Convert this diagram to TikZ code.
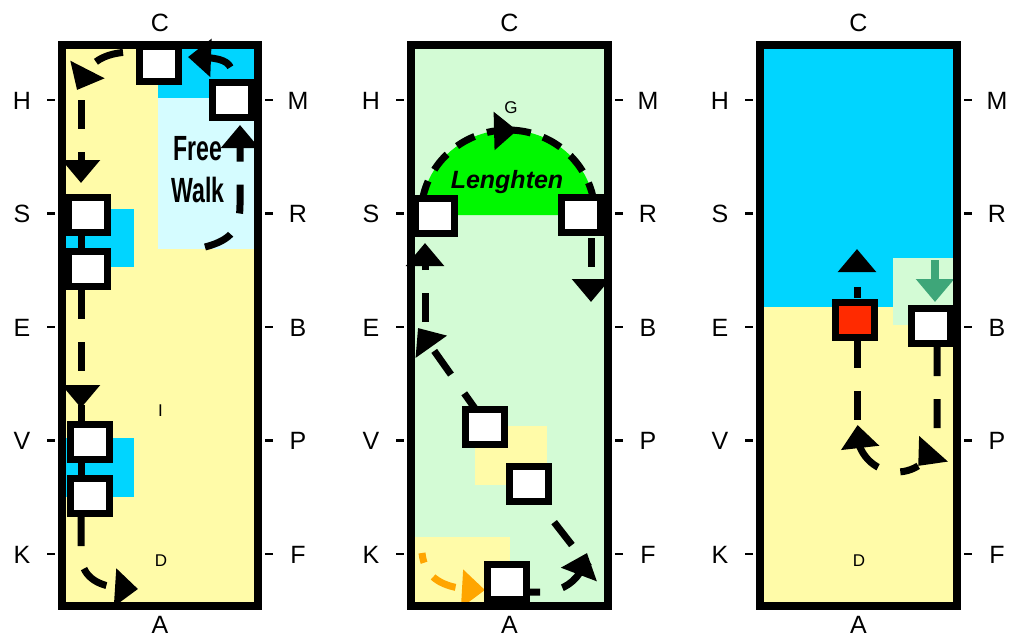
\documentclass[tikz,border=0pt]{standalone}
\usepackage{fontspec}
\usepackage{graphicx}
\setmainfont{Liberation Sans}
\usetikzlibrary{arrows.meta,bending}
\definecolor{pyellow}{HTML}{FFFBA8}
\definecolor{pcyan}{HTML}{00D5FF}
\definecolor{plcyan}{HTML}{D5FCFF}
\definecolor{plgreen}{HTML}{D3FBD5}
\definecolor{pgreen}{HTML}{00F800}
\definecolor{pred}{HTML}{FF2A00}
\definecolor{porange}{HTML}{FFA500}
\definecolor{parrowgreen}{HTML}{3EA679}
\begin{document}
\begin{tikzpicture}[x=1pt,y=-1pt,
  pbox/.style={draw=black,fill=white,line width=7pt,minimum width=39pt,minimum height=35pt,inner sep=0pt},
  dline/.style={line width=7pt,dash pattern=on 29pt off 23pt},
  aline/.style={line width=7pt,dash pattern=on 20pt off 13pt},
  arr/.style={-{Triangle[length=23pt,width=37pt]}},
  frame/.style={draw=black,line width=8pt},
  tick/.style={line width=2.5pt},
  lab/.style={font=\fontsize{25}{25}\selectfont,anchor=base,inner sep=0pt},
  small/.style={font=\fontsize{17}{17}\selectfont,anchor=base,inner sep=0pt}
]
\useasboundingbox (0,0) rectangle (1013,637);

% ---------- backgrounds ----------
\fill[pyellow] (62,45) rectangle (258,606);
\fill[pcyan] (158,49) rectangle (254,98);
\fill[plcyan] (158,98) rectangle (254,249);
\fill[pcyan] (62,209) rectangle (134,267);
\fill[pcyan] (62,438) rectangle (134,497);

\fill[plgreen] (411,45) rectangle (608,606);
\fill[pgreen] (421,215) arc[start angle=180,end angle=360,x radius=87,y radius=85] -- cycle;
\fill[pyellow] (475,426) rectangle (547,485);
\fill[pyellow] (412,537) rectangle (510,602);

\fill[pyellow] (760,45) rectangle (957,606);
\fill[pcyan] (764,49) rectangle (954,307);
\fill[plgreen] (893,258) rectangle (954,325);

% ---------- texts inside ----------
\node[anchor=base,inner sep=0pt] (free) at (197.5,160) {\scalebox{0.66}[1]{\fontsize{35}{35}\selectfont\bfseries Free}};
\node[anchor=base,inner sep=0pt] (walk) at (198,202) {\scalebox{0.66}[1]{\fontsize{35}{35}\selectfont\bfseries Walk}};
\node[small] (i1) at (160.5,416) {I};
\node[small] (d1) at (161,566) {D};
\node[small] (g2) at (511,113) {G};
\node[anchor=base,inner sep=0pt,font=\fontsize{25}{25}\selectfont\bfseries\itshape] (len) at (507,188) {Lenghten};
\node[small] (d3) at (859,566) {D};

% ---------- panel 1 connectors ----------
\draw[dline,dash phase=29pt,arr] (146,52) .. controls (105,50) and (88,60) .. (77,90);
\draw[dline,arr] (81,100) -- (81,183);
\draw[line width=7pt] (81,230) -- (81,250);
\draw[dline,arr] (81,290) -- (81,408);
\draw[line width=7pt] (81,405) -- (81,422);
\draw[line width=7pt] (81,460) -- (81,478);
\draw[dline,arr] (81,517) -- (81,555) .. controls (82,582) and (105,589) .. (138,589);
\draw[dline,dash phase=29pt,arr] (232,90) -- (232,75) .. controls (232,60) and (220,57) .. (188,57);
\draw[dline,arr] (205,247) .. controls (232,240) and (240,228) .. (240,205) -- (240,125);

% ---------- panel 2 connectors ----------
\draw[aline,arr] (422.3,200.2) arc[start angle=190,end angle=276,x radius=87,y radius=85];
\draw[aline] (511,130.05) arc[start angle=272,end angle=355,x radius=87,y radius=85];
\draw[dline,arr] (591,238) -- (591,302);
\draw[dline,arr] (425,322) -- (425,243);
\draw[dline,arr] (481,417) -- (418,328);
\draw[dline,dash phase=29pt] (540,504) -- (589,567);
\draw[dline,arr] (511,592) -- (540,592) .. controls (566,593) and (584,576) .. (587,553);
\draw[porange,line width=7pt,dash pattern=on 25pt off 17pt,dash phase=15pt,arr] (422,553) .. controls (425,580) and (445,590) .. (485,590);

% ---------- panel 3 connectors ----------
\draw[dline,dash pattern=on 11pt off 40pt,arr] (857,298) -- (857,249);
\draw[dline] (857,339) -- (857,421);
\draw[dline,arr] (937,347) -- (937,432) arc[start angle=0,end angle=58,radius=40];
\draw[dline,dash phase=10pt,arr] (918.2,465.9) arc[start angle=58,end angle=190,radius=40];
\draw[parrowgreen,line width=8pt,arr] (935,260) -- (935,302);

% ---------- players ----------
\node[pbox] (p1c) at (159,64) {};
\node[pbox] (p1m) at (232,99.5) {};
\node[pbox] (p1s) at (87.5,214.5) {};
\node[pbox] (p1s2) at (87.5,269) {};
\node[pbox] (p1v) at (90,441.5) {};
\node[pbox] (p1v2) at (90,496) {};

\node[pbox] (p2s) at (435,216) {};
\node[pbox] (p2r) at (581,215) {};
\node[pbox] (p2v) at (484.5,426.5) {};
\node[pbox] (p2x) at (529,483.5) {};
\node[pbox] (p2a) at (507,582) {};

\node[pbox,fill=pred] (p3r) at (855,320) {};
\node[pbox] (p3b) at (931,326) {};

% ---------- frames and labels ----------
\foreach \L/\R/\M/\n in {62/258/160/1, 411/608/509.5/2, 760/957/858.5/3} {
  \draw[frame] (\L,45) rectangle (\R,606);
  \node[lab] (c\n) at (\M,31.5) {C};
  \node[lab] (a\n) at (\M,633) {A};
  \foreach \y/\l/\r/\k in {100/H/M/1, 213.5/S/R/2, 327/E/B/3, 440.5/V/P/4, 554/K/F/5} {
    \draw[tick] (\L-15,\y) -- (\L-7,\y);
    \draw[tick] (\R+7,\y) -- (\R+15,\y);
    \node[lab] (l\n\k) at (\L-40,\y+9) {\l};
    \node[lab] (r\n\k) at (\R+40,\y+9) {\r};
  }
}
\end{tikzpicture}
\end{document}
